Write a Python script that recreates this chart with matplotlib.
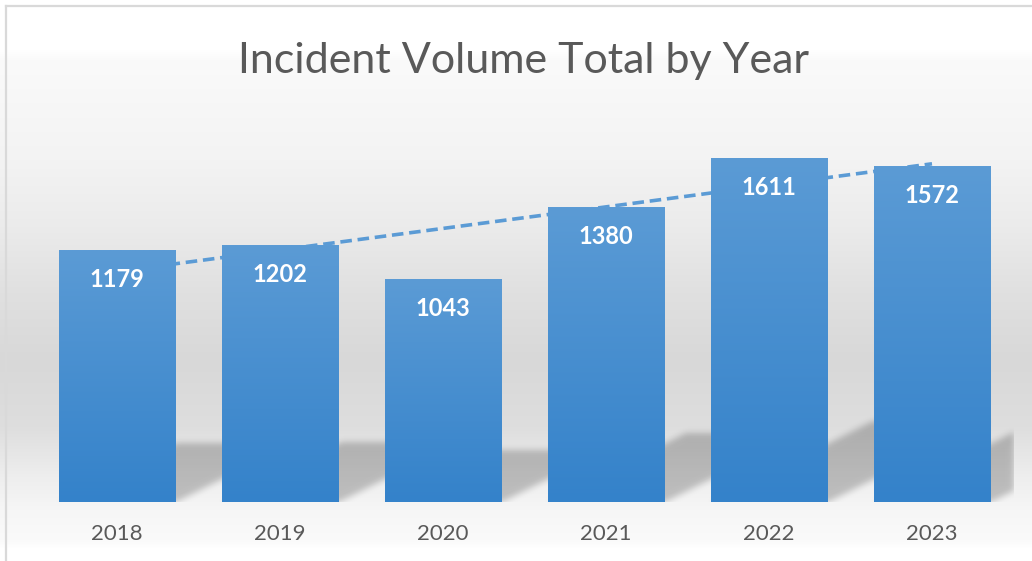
import numpy as np
import matplotlib.pyplot as plt
from matplotlib.lines import Line2D

plt.rcParams['font.family'] = ['Lato', 'DejaVu Sans']

years = ['2018', '2019', '2020', '2021', '2022', '2023']
incidents = [1179, 1202, 1043, 1380, 1611, 1572]
title = 'Incident Volume Total by Year'

W, H = 1032, 561
fig = plt.figure(figsize=(W / 100, H / 100), dpi=100)

# background: soft vertical grey gradient like the excel chart area
bg = fig.add_axes([0, 0, 1, 1], zorder=0)
stop_y = [0, 50, 60, 160, 227, 293, 360, 427, 477, 510, 540, 548, 561]
stop_v = [255, 255, 250, 243, 235, 224, 216, 222, 238, 246, 250, 255, 255]
rows = np.interp(np.arange(H), stop_y, stop_v) / 255
bg_img = np.dstack([np.repeat(rows[:, None], 2, axis=1)] * 3)
bg.imshow(bg_img, aspect='auto', extent=(0, 1, 0, 1), interpolation='bilinear')
bg.axis('off')

# plot area
ax_l, ax_b, ax_w, ax_h = 35.5, 502, 978, 384.5
ax = fig.add_axes([ax_l / W, (H - ax_b) / H, ax_w / W, ax_h / H], zorder=1)
ax.patch.set_visible(False)
ymax = 1800
x = np.arange(len(years))
bars = ax.bar(x, incidents, width=0.712, color='#4a90d0', zorder=3)

# gradient fill inside each bar
top_c = np.array([91, 155, 213]) / 255
bot_c = np.array([52, 130, 202]) / 255
t = np.linspace(0, 1, 128)[:, None]
bar_img = (top_c * (1 - t) + bot_c * t)[:, None, :]
for b in bars:
    x0, w, h = b.get_x(), b.get_width(), b.get_height()
    im = ax.imshow(bar_img, extent=(x0, x0 + w, 0, h), aspect='auto',
                   zorder=3.5, interpolation='bilinear')
    im.set_clip_path(b)

# perspective shadows behind bars
px_x = ax_w / len(years)
px_y = ax_h / ymax
ny = 140
xx = np.arange(int(ax_w)) + 0.5
yy = np.arange(ny)[:, None] + 0.5
mask = np.zeros((ny, int(ax_w)))
for b in bars:
    left = (b.get_x() + 0.5) * px_x
    right = left + b.get_width() * px_x
    hs = 0.235 * b.get_height() * px_y
    shift = 2.0 * yy
    inside = (xx >= left + shift) & (xx <= right + shift) & (yy <= hs)
    mask = np.maximum(mask, inside.astype(float))
k = np.exp(-0.5 * (np.arange(-10, 11) / 3.2) ** 2)
k /= k.sum()
mask = np.apply_along_axis(lambda r: np.convolve(r, k, mode='same'), 1, mask)
mask = np.apply_along_axis(lambda c: np.convolve(c, k, mode='same'), 0, mask)
shadow = np.zeros((ny, int(ax_w), 4))
shadow[..., 3] = 0.22 * mask
ax.imshow(shadow, extent=(-0.5, len(years) - 0.5, 0, ny / px_y), origin='lower',
          aspect='auto', zorder=2, interpolation='bilinear')

# linear trendline
coef = np.polyfit(x, incidents, 1)
trend = np.polyval(coef, x)
ax.plot(x, trend, color='#5b9bd5', lw=2.6, ls=(0, (3.2, 1.6)), zorder=2.5,
        dash_capstyle='butt')

for xi, v in zip(x, incidents):
    ax.annotate(str(v), (xi, v), xytext=(0, -21), textcoords='offset points',
                ha='center', va='center', color='white', fontsize=17,
                fontweight='bold', zorder=5)

ax.set_xlim(-0.5, len(years) - 0.5)
ax.set_ylim(0, ymax)
ax.set_xticks(x, years)
ax.set_yticks([])
ax.tick_params(axis='x', length=0, pad=16, labelsize=16, labelcolor='#595959')
for s in ax.spines.values():
    s.set_visible(False)

fig.text(524 / W, 1 - 73 / H, title, ha='center', va='baseline',
         fontsize=31, color='#595959')

# thin frame on the left and top edge
fig.add_artist(Line2D([6 / W, 6 / W], [0, 1 - 6 / H], color='#d9d9d9', lw=1.6,
                      transform=fig.transFigure))
fig.add_artist(Line2D([6 / W, 1], [1 - 6 / H, 1 - 6 / H], color='#d9d9d9', lw=1.6,
                      transform=fig.transFigure))

fig.savefig('out.png', dpi=100)
